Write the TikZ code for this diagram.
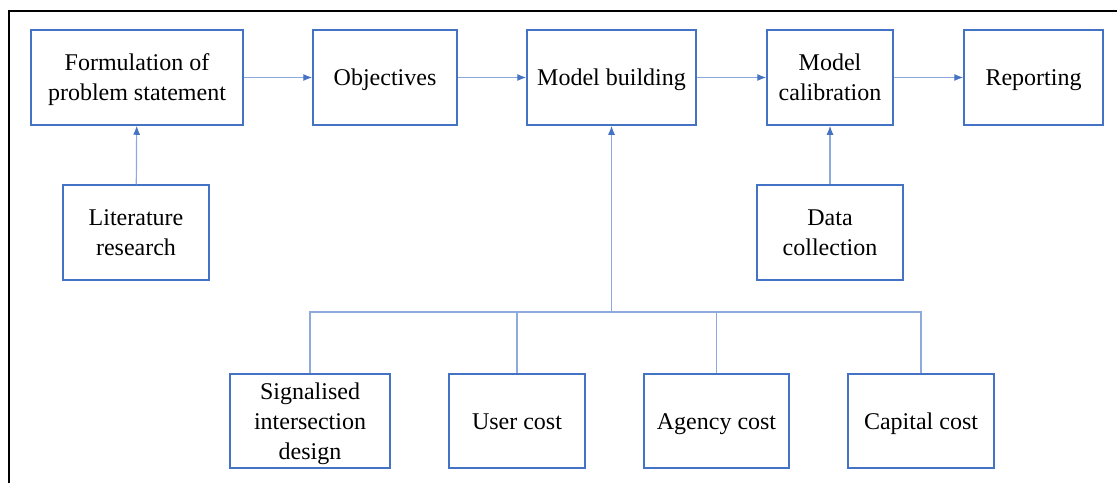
\documentclass[tikz,border=0pt]{standalone}
\usepackage{fontspec}
\setmainfont{Liberation Serif}
\usetikzlibrary{arrows.meta}
\definecolor{boxblue}{HTML}{4472C4}
\definecolor{lineblue}{HTML}{8EA9DB}
\tikzset{
  stage/.style={draw=boxblue, line width=0.75pt, align=center, inner sep=0pt,
    font=\fontsize{12}{15}\selectfont, minimum height=47.5pt,
    text height=8.4pt, text depth=0pt},
  twoline/.style={text height=23.4pt},
  threeline/.style={text height=38.4pt},
  link/.style={draw=lineblue, line width=0.6pt},
  flow/.style={link, -{Latex[length=4.5pt,width=3.5pt,color=boxblue]}}
}

\begin{document}
\begin{tikzpicture}[x=0.5pt,y=-0.5pt]
\useasboundingbox (0,0) rectangle (1117,483);
\draw[line width=0.6pt] (9,483) -- (9,11) -- (1117,11);

\node[stage, twoline, minimum width=106pt] (form) at (137,77.5) {Formulation of\\problem statement};
\node[stage, minimum width=72pt] (obj) at (385,77.5) {Objectives};
\node[stage, minimum width=84.5pt] (build) at (611.5,77.5) {Model building};
\node[stage, twoline, minimum width=63pt] (calib) at (830,77.5) {Model\\calibration};
\node[stage, minimum width=69.5pt] (report) at (1033.5,77.5) {Reporting};
\node[stage, twoline, minimum width=73pt] (lit) at (136,232.5) {Literature\\research};
\node[stage, twoline, minimum width=73pt] (data) at (830,232.5) {Data\\collection};

\node[stage, threeline, minimum width=80pt, minimum height=47pt] (sig) at (310,421) {Signalised\\intersection\\design};
\node[stage, minimum width=68pt, minimum height=47pt] (user) at (517,421) {User cost};
\node[stage, minimum width=72.5pt, minimum height=47pt] (agency) at (716.5,421) {Agency cost};
\node[stage, minimum width=73pt, minimum height=47pt] (capital) at (921,421) {Capital cost};

\coordinate (bus) at (611.5,312);

% main chain
\draw[flow] (form) -- (obj);
\draw[flow] (obj) -- (build);
\draw[flow] (build) -- (calib);
\draw[flow] (calib) -- (report);
\draw[flow] (lit) -- (form);
\draw[flow] (data) -- (calib);

% cost components
\draw[flow] (bus) -- (build);
\draw[link] (sig.north) |- (bus) -| (capital.north);
\draw[link] (user.north) -- (user.north |- bus);
\draw[link] (agency.north) -- (agency.north |- bus);
\end{tikzpicture}
\end{document}
